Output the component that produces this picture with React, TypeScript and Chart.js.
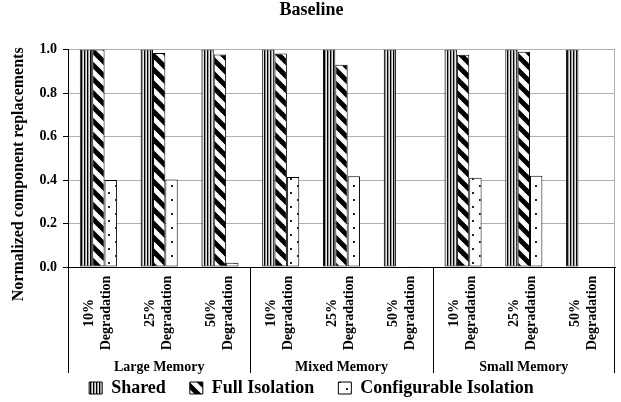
import React, { useEffect, useRef } from "react";
import { Chart, registerables } from "chart.js";

Chart.register(...registerables);

// ---- data ----
const groups = ["Large Memory", "Mixed Memory", "Small Memory"];
const degradations = ["10%", "25%", "50%"];
const degradationWord = "Degradation";
const seriesNames = ["Shared", "Full Isolation", "Configurable Isolation"];
const shared = [1.0, 1.0, 1.0, 1.0, 1.0, 1.0, 1.0, 1.0, 1.0];
const fullIsolation = [1.0, 0.984, 0.977, 0.982, 0.93, 0, 0.976, 0.99, 0];
const configurableIsolation = [0.4, 0.403, 0.02, 0.414, 0.418, 0.003, 0.41, 0.42, 0];
const yTicks = [0, 0.2, 0.4, 0.6, 0.8, 1.0];
const titleText = "Baseline";
const yTitle = "Normalized component replacements";

const FONT = "'Liberation Serif', 'Times New Roman', serif";

const categoryLabels: string[][] = [];
groups.forEach(() => degradations.forEach((d) => categoryLabels.push([d, degradationWord])));

function makePattern(kind: string): CanvasPattern | string {
  const c = document.createElement("canvas");
  const g = c.getContext("2d");
  if (!g) return "#ccc";
  if (kind === "vertical") {
    c.width = 3;
    c.height = 4;
    g.fillStyle = "#000";
    g.fillRect(0, 0, 1, 4);
    g.fillStyle = "#9a9a9a";
    g.fillRect(1, 0, 1, 4);
    g.fillStyle = "#e8e8e8";
    g.fillRect(2, 0, 1, 4);
  } else if (kind === "diagonal") {
    const s = 14;
    c.width = s;
    c.height = s;
    g.fillStyle = "#fff";
    g.fillRect(0, 0, s, s);
    g.strokeStyle = "#000";
    g.lineWidth = 5;
    g.lineCap = "square";
    for (const o of [-s, 0, s]) {
      g.beginPath();
      g.moveTo(o - 3, -3);
      g.lineTo(o + s + 3, s + 3);
      g.stroke();
    }
  } else {
    const s = 14;
    c.width = s;
    c.height = s;
    g.fillStyle = "#fff";
    g.fillRect(0, 0, s, s);
    g.fillStyle = "#222";
    g.fillRect(3, 3, 2, 2);
    g.fillRect(10, 10, 2, 2);
  }
  const p = g.createPattern(c, "repeat");
  return p || "#ccc";
}

const multiLevelPlugin = {
  id: "multiLevel",
  afterDraw(chart: any) {
    const ctx = chart.ctx as CanvasRenderingContext2D;
    const xs = chart.scales.x;
    const area = chart.chartArea;
    const labels = chart.data.labels as string[][];
    const n = labels.length;
    const per = n / groups.length;
    ctx.save();
    // right border of plot area
    ctx.strokeStyle = "#b0b0b0";
    ctx.lineWidth = 1;
    ctx.beginPath();
    ctx.moveTo(Math.round(area.right) - 0.5, area.top);
    ctx.lineTo(Math.round(area.right) - 0.5, area.bottom);
    ctx.stroke();

    // group separators
    const sepBottom = xs.top + 106;
    const bounds: number[] = [xs.left];
    for (let g = 1; g < groups.length; g++) {
      const i = g * per;
      bounds.push((xs.getPixelForValue(i - 1) + xs.getPixelForValue(i)) / 2);
    }
    bounds.push(xs.right);
    ctx.strokeStyle = "#000";
    bounds.forEach((b, k) => {
      const px = Math.round(b) + (k === bounds.length - 1 ? -0.5 : 0.5);
      ctx.beginPath();
      ctx.moveTo(px, xs.top);
      ctx.lineTo(px, sepBottom);
      ctx.stroke();
    });

    // category labels (rotated)
    ctx.fillStyle = "#000";
    ctx.font = `bold 14px ${FONT}`;
    ctx.textAlign = "center";
    ctx.textBaseline = "middle";
    const lineOffsets = [-9, 8];
    const labelMidY = xs.top + 46;
    labels.forEach((lab, i) => {
      const cx = xs.getPixelForValue(i);
      lab.forEach((line, j) => {
        ctx.save();
        ctx.translate(cx + lineOffsets[j], labelMidY);
        ctx.rotate(-Math.PI / 2);
        ctx.fillText(line, 0, 0);
        ctx.restore();
      });
    });

    // group labels
    ctx.font = `bold 14px ${FONT}`;
    groups.forEach((gName, g) => {
      const mid = (bounds[g] + bounds[g + 1]) / 2;
      ctx.fillText(gName, mid, xs.top + 100);
    });

    // y axis title
    ctx.font = `bold 16px ${FONT}`;
    ctx.save();
    ctx.translate(19, (area.top + area.bottom) / 2 + 16);
    ctx.rotate(-Math.PI / 2);
    ctx.fillText(yTitle, 0, 0);
    ctx.restore();
    ctx.restore();
  },
};

export default function App() {
  const ref = useRef<HTMLCanvasElement | null>(null);
  useEffect(() => {
    document.body.style.margin = "0";
    const canvas = ref.current;
    if (!canvas) return;
    const patterns = [makePattern("vertical"), makePattern("diagonal"), makePattern("dots")];
    const values = [shared, fullIsolation, configurableIsolation];
    const chart = new Chart(canvas, {
      type: "bar",
      data: {
        labels: categoryLabels,
        datasets: seriesNames.map((name, k) => ({
          label: name,
          data: values[k],
          backgroundColor: patterns[k] as any,
          borderColor: "#000",
          borderWidth: 1,
          borderSkipped: false,
          categoryPercentage: 0.61,
          barPercentage: 1.0,
        })),
      },
      options: {
        responsive: false,
        animation: false,
        layout: { padding: { left: 8, right: 6, top: 0, bottom: -5 } },
        plugins: {
          title: {
            display: true,
            text: titleText,
            color: "#000",
            font: { family: FONT, size: 18, weight: "bold" },
            padding: { top: 0, bottom: 28 },
          },
          legend: {
            position: "bottom",
            labels: {
              color: "#000",
              font: { family: FONT, size: 18, weight: "bold" },
              boxWidth: 13,
              boxHeight: 12,
              padding: 24,
            },
          },
          tooltip: { enabled: false },
        },
        scales: {
          x: {
            grid: { display: false },
            border: { display: true, color: "#000", width: 1 },
            ticks: { display: false },
            afterFit: (scale: any) => {
              scale.height = 88;
            },
          },
          y: {
            min: 0,
            max: 1,
            afterBuildTicks: (scale: any) => {
              scale.ticks = yTicks.map((v) => ({ value: v }));
            },
            afterFit: (scale: any) => {
              scale.width = 60;
            },
            ticks: {
              color: "#000",
              font: { family: FONT, size: 14, weight: "bold" },
              padding: 6,
              callback: (v: any) => Number(v).toFixed(1),
            },
            grid: {
              color: (c: any) => (c.tick && c.tick.value === 0 ? "#000" : "#b0b0b0"),
              tickColor: "#000",
              tickLength: 5,
            },
            border: { display: true, color: "#000", width: 1 },
            title: { display: false },
          },
        },
      },
      plugins: [multiLevelPlugin],
    });
    return () => chart.destroy();
  }, []);
  return (
    <div style={{ width: 621, height: 402, background: "#fff" }}>
      <canvas ref={ref} width={621} height={402} style={{ display: "block" }} />
    </div>
  );
}
